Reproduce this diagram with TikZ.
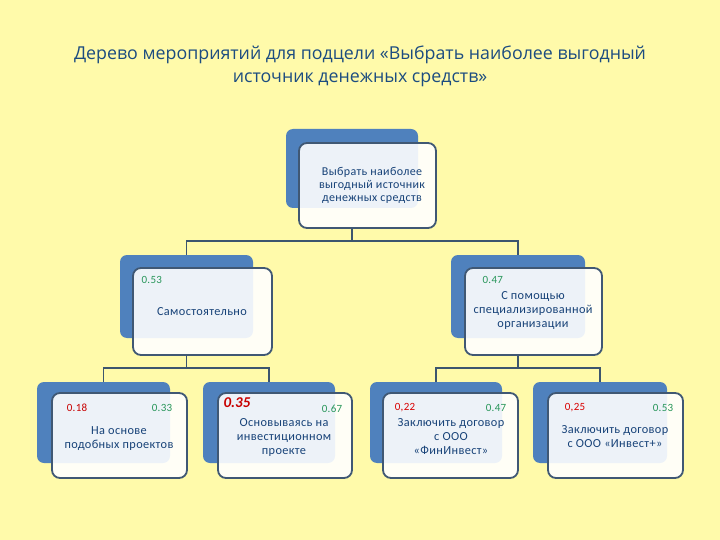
\documentclass[tikz,border=0pt]{standalone}
\usepackage{fontspec}
\setmainfont{Carlito}
\newfontfamily\titlefont{Open Sans}
\newfontfamily\boxfont[LetterSpace=3]{Carlito}
\definecolor{bgyellow}{RGB}{255,250,170}
\definecolor{backblue}{RGB}{79,129,189}
\definecolor{frameblue}{RGB}{64,88,116}
\definecolor{txtblue}{RGB}{23,66,120}
\definecolor{titleblue}{RGB}{28,76,128}
\definecolor{numgreen}{RGB}{40,150,90}
\definecolor{numred}{RGB}{200,0,0}
\definecolor{linecol}{RGB}{60,85,110}
\tikzset{
  backbox/.style={fill=backblue, rounded corners=7pt, minimum width=133pt, minimum height=81pt, inner sep=0pt},
  frontbox/.style={fill=white, fill opacity=0.9, draw=frameblue, draw opacity=1, line width=1.8pt, rounded corners=8pt, minimum width=135pt, minimum height=85pt, inner sep=0pt},
  boxtext/.style={text=txtblue, font=\boxfont\fontsize{12.3}{14}\selectfont, align=center, text opacity=1},
  gnum/.style={text=numgreen, font=\boxfont\fontsize{11}{12}\selectfont},
  rnum/.style={text=numred, font=\boxfont\fontsize{11}{12}\selectfont},
  conn/.style={draw=linecol, line width=1.8pt}
}
\begin{document}
\begin{tikzpicture}[x=1pt,y=-1pt]
\fill[bgyellow] (0,0) rectangle (720,540);
\useasboundingbox (0,0) rectangle (720,540);

% title
\node[text=titleblue, font=\titlefont\fontsize{17.8}{23}\selectfont, align=center] (title) at (360,66.5)
  {Дерево мероприятий для подцели «Выбрать наиболее выгодный\\источник денежных средств»};

% top box
\node[backbox, minimum width=132pt, minimum height=79pt] (topb) at (352,168.5) {};
\node[frontbox, minimum width=137pt] (topf) at (367.5,185.5) {};
\node[boxtext, font=\boxfont\fontsize{12}{13}\selectfont] (topt) at (372,185) {Выбрать наиболее\\выгодный источник\\денежных средств};

% level 2 left
\node[backbox, minimum height=83pt] (lb) at (186.5,296.5) {};
\node[frontbox, minimum width=139pt, minimum height=87pt] (lf) at (202.5,311.5) {};
\node[gnum, anchor=west] (lp) at (138,280) {0.53};
\node[boxtext] (lt) at (202,312) {Самостоятельно};

% level 2 right
\node[backbox, minimum width=134pt, minimum height=83pt] (rb) at (518,296.5) {};
\node[frontbox, minimum width=137pt, minimum height=87pt] (rf) at (533.5,311.5) {};
\node[gnum, anchor=west] (rp) at (479,280) {0.47};
\node[boxtext] (rt) at (533,311) {С помощью\\специализированной\\организации};

% level 3
\node[backbox] (b1b) at (103.5,422.5) {};
\node[frontbox] (b1f) at (119.5,435.5) {};
\node[rnum] (b1r) at (77,408) {0.18};
\node[gnum] (b1g) at (162,408) {0.33};
\node[boxtext] (b1t) at (119,438.5) {На основе\\подобных проектов};

\node[backbox, minimum width=132pt] (b2b) at (269,422.5) {};
\node[frontbox, minimum width=134pt] (b2f) at (285,435.5) {};
\node[text=numred, font=\fontsize{15}{16}\selectfont\bfseries\itshape, anchor=west] (b2r) at (220,403) {0.35};
\node[gnum] (b2g) at (332,409) {0.67};
\node[boxtext] (b2t) at (284,437) {Основываясь на\\инвестиционном\\проекте};

\node[backbox, minimum width=132pt] (b3b) at (436,422.5) {};
\node[frontbox] (b3f) at (450.5,435.5) {};
\node[rnum, text=red!85!black] (b3r) at (405,408) {0,22};
\node[gnum] (b3g) at (496,408) {0.47};
\node[boxtext] (b3t) at (451,437) {Заключить договор\\с ООО\\«ФинИнвест»};

\node[backbox, minimum width=134pt] (b4b) at (600,422.5) {};
\node[frontbox] (b4f) at (615.5,435.5) {};
\node[rnum, text=red!85!black] (b4r) at (575,408) {0,25};
\node[gnum] (b4g) at (663,408) {0.53};
\node[boxtext] (b4t) at (615,437) {Заключить договор\\с ООО «Инвест+»};

% connectors
\draw[conn] (topb.south |- topf.south) -- ++(0,12) coordinate (j1);
\draw[conn] (lb.north) -- (lb.north |- j1) -- (rb.north |- j1) -- (rb.north);
\draw[conn] (lb.south |- lf.south) -- ++(0,12) coordinate (j2);
\draw[conn] (b1b.north) -- (b1b.north |- j2) -- (b2b.north |- j2) -- (b2b.north);
\draw[conn] (rb.south |- rf.south) -- ++(0,12) coordinate (j3);
\draw[conn] (b3b.north) -- (b3b.north |- j3) -- (b4b.north |- j3) -- (b4b.north);
\end{tikzpicture}
\end{document}
